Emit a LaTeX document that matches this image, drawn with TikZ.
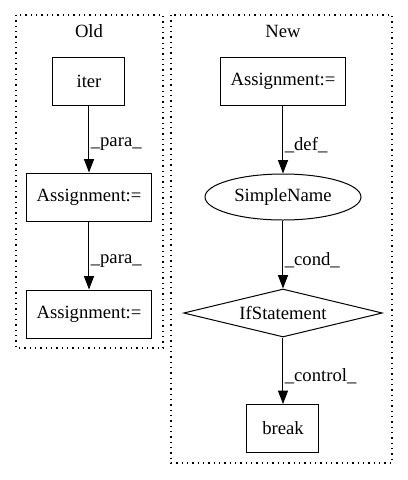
\documentclass[tikz,border=0pt]{standalone}
\usepackage{fontspec}
\setmainfont{Liberation Serif}
\usetikzlibrary{shapes.geometric,arrows.meta}
\begin{document}
\begin{tikzpicture}[x=0.75pt,y=-0.75pt,
  every node/.style={font=\fontsize{14}{16}\selectfont},
  box/.style={draw, line width=0.75pt, minimum height=36pt, inner sep=0pt},
  clusterbox/.style={draw, dash pattern=on 0.9pt off 3.1pt, line width=0.8pt},
  edge/.style={draw, line width=0.75pt, -{Triangle[length=10pt,width=7.5pt]}},
  elabel/.style={right, inner sep=1pt, yshift=-4pt}]
\useasboundingbox (0,0) rectangle (408,480);
\draw[clusterbox] (16,15) rectangle (163,348);
\draw[clusterbox] (171,15) rectangle (392,463);
\node (oldlbl) at (89,31) {Old};
\node (newlbl) at (283,31) {New};
% Old
\node[box, minimum width=54pt] (iter) at (89,81) {iter};
\node[box, minimum width=93.75pt] (a1) at (89,197) {Assignment:=};
\node[box, minimum width=93.75pt] (a2) at (89,314) {Assignment:=};
\draw[edge] (iter) -- node[elabel] {\_para\_} (a1);
\draw[edge] (a1) -- node[elabel] {\_para\_} (a2);
% New
\node[box, minimum width=93.75pt] (na) at (283,81) {Assignment:=};
\node[draw, ellipse, line width=0.75pt, minimum width=117pt, minimum height=34.5pt, inner sep=0pt] (sn) at (283,197) {SimpleName};
\node[draw, diamond, aspect=4.1, line width=0.75pt, minimum width=149pt, minimum height=36pt, inner sep=0pt] (ifs) at (283,313) {IfStatement};
\node[box, minimum width=54pt] (brk) at (283,428.5) {break};
\draw[edge] (na) -- node[elabel] {\_def\_} (sn);
\draw[edge] (sn) -- node[elabel] {\_cond\_} (ifs);
\draw[edge] (ifs) -- node[elabel] {\_control\_} (brk);
\end{tikzpicture}
\end{document}
